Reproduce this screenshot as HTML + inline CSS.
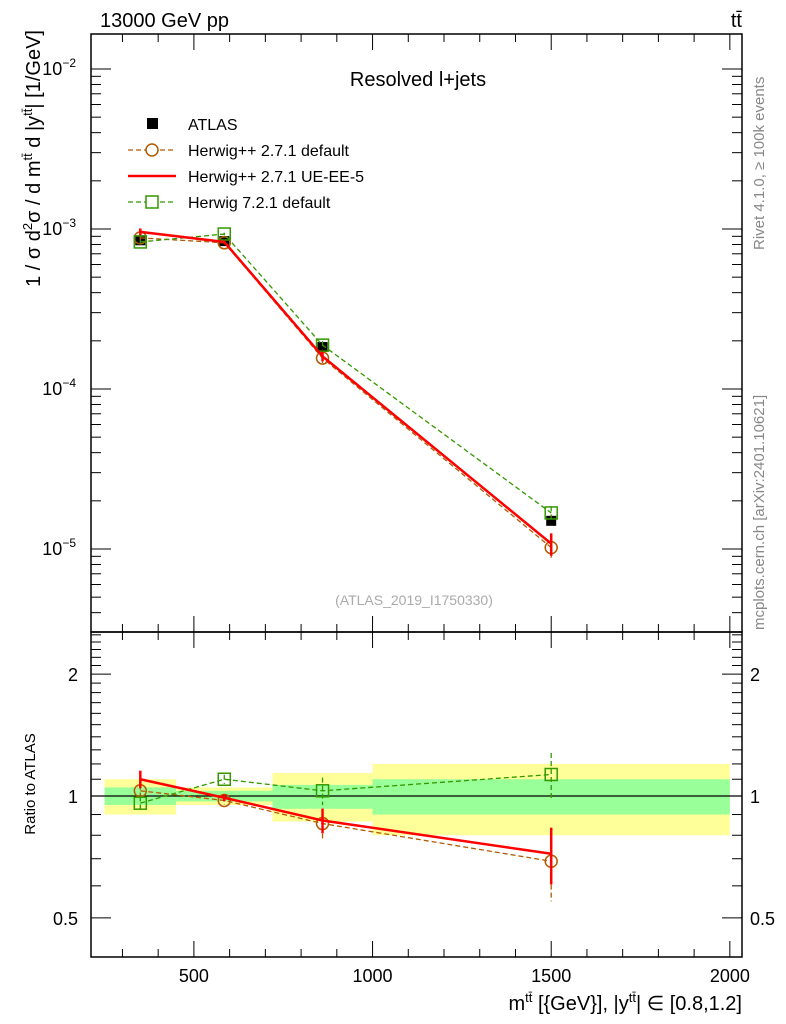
<!DOCTYPE html>
<html><head><meta charset="utf-8">
<style>
html,body{margin:0;padding:0;background:#fff;}
svg{display:block;font-family:"Liberation Sans",sans-serif;}
</style></head>
<body>
<svg id="c" width="786" height="1024" viewBox="0 0 786 1024" xmlns="http://www.w3.org/2000/svg">
<text x="100" y="27" font-size="20">13000 GeV pp</text>
<text x="742" y="27" font-size="20" text-anchor="end">tt̄</text>
<text x="418" y="86" font-size="20" text-anchor="middle">Resolved l+jets</text>
<text x="414" y="605" font-size="14" fill="#aaa" text-anchor="middle">(ATLAS_2019_I1750330)</text>
<text transform="translate(764,250) rotate(-90)" font-size="15" fill="#888">Rivet 4.1.0, ≥ 100k events</text>
<text transform="translate(764,630) rotate(-90)" font-size="15" fill="#888">mcplots.cern.ch [arXiv:2401.10621]</text>
<text transform="translate(40,30) rotate(-90)" font-size="20" text-anchor="end">1 / σ d<tspan font-size="13" dy="-8">2</tspan><tspan dy="8">σ / d m</tspan><tspan font-size="13" dy="-8">tt̄</tspan><tspan dy="8"> d |y</tspan><tspan font-size="13" dy="-8">tt̄</tspan><tspan dy="8">| [1/GeV]</tspan></text>
<text transform="translate(35,784) rotate(-90)" font-size="15" text-anchor="middle">Ratio to ATLAS</text>
<text x="742" y="1010" font-size="20" text-anchor="end">m<tspan font-size="13" dy="-8">tt̄</tspan><tspan dy="8"> [{GeV}], |y</tspan><tspan font-size="13" dy="-8">tt̄</tspan><tspan dy="8">| ∈ [0.8,1.2]</tspan></text>
<g id="legend"></g>
<g id="plot"></g>
</svg>
<script>
const xCenters = [350, 585, 860, 1500];
const binEdges = [250, 450, 720, 1000, 2000];
const atlas = [8.5e-4, 8.4e-4, 1.83e-4, 1.5e-5];
const hppDefault = [8.8e-4, 8.2e-4, 1.56e-4, 1.02e-5];
const hppUE = [9.6e-4, 8.3e-4, 1.6e-4, 1.08e-5];
const h7Default = [8.3e-4, 9.3e-4, 1.88e-4, 1.68e-5];
const ratioDefault = [1.03, 0.975, 0.855, 0.69];
const ratioUE = [1.10, 0.99, 0.87, 0.72];
const ratioH7 = [0.96, 1.10, 1.03, 1.13];
const relErrUE = [0.05, 0.02, 0.07, 0.16];
const relErrDefault = [0.03, 0.02, 0.07, 0.17];
const relErrH7 = [0.03, 0.02, 0.06, 0.10];
const bandOuterHi = [1.10, 1.05, 1.14, 1.20];
const bandOuterLo = [0.90, 0.95, 0.865, 0.80];
const bandInnerHi = [1.05, 1.03, 1.065, 1.10];
const bandInnerLo = [0.95, 0.97, 0.93, 0.90];
const xTicks = [500, 1000, 1500, 2000];
const yMainTicks = [-2, -3, -4, -5];
const yRatioTicks = [2, 1, 0.5];
const yRatioTickLabels = ["2", "1", "0.5"];

const NS = "http://www.w3.org/2000/svg";
const L = 91, R = 742, T = 34, MB = 632, RB = 957;
const xmin = 212, xmax = 2034;
const X = v => L + (v - xmin) / (xmax - xmin) * (R - L);
const Y = v => 69 + (-2 - Math.log10(v)) * 160;
const YR = v => 796 - Math.log10(v) * 405;
const plot = document.getElementById('plot');
function mk(tag, at, parent) { const e = document.createElementNS(NS, tag); for (const k in at) e.setAttribute(k, at[k]); (parent || plot).appendChild(e); return e; }

for (let i = 0; i < 4; i++) {
  const r1 = mk('rect', {x: X(binEdges[i]), y: YR(bandOuterHi[i]), width: X(binEdges[i+1]) - X(binEdges[i]), height: YR(bandOuterLo[i]) - YR(bandOuterHi[i]), fill: '#ffff99'});
  
  
  const r2 = mk('rect', {x: X(binEdges[i]), y: YR(bandInnerHi[i]), width: X(binEdges[i+1]) - X(binEdges[i]), height: YR(bandInnerLo[i]) - YR(bandInnerHi[i]), fill: '#99ff99'});
  
  
}
const one = mk('line', {x1: L, x2: R, y1: YR(1), y2: YR(1), stroke: '#000', 'stroke-width': 1.2});



const f1 = mk('rect', {x: L, y: T, width: R - L, height: MB - T, fill: 'none', stroke: '#000', 'stroke-width': 1.5});


const f2 = mk('rect', {x: L, y: MB, width: R - L, height: RB - MB, fill: 'none', stroke: '#000', 'stroke-width': 1.5});



for (let v = 300; v <= 2000; v += 100) {
  const big = v % 500 === 0, len = big ? 16 : 8;
  [[T, 1], [MB, -1], [MB, 1], [RB, -1]].forEach(([y0, d]) => {
    const t = mk('line', {x1: X(v), x2: X(v), y1: y0, y2: y0 + d * len, stroke: '#000', 'stroke-width': 1});
    
    
  });
}
xTicks.forEach(v => {
  const t = mk('text', {x: X(v), y: 982, 'font-size': 18, 'text-anchor': 'middle'});
  t.textContent = v;
  
  
});
for (let d = -6; d <= -2; d++) for (let m = 1; m < 10; m++) {
  const v = m * Math.pow(10, d), y = Y(v);
  if (y < T || y > MB) continue;
  const len = m === 1 ? 20 : 10;
  [[L, 1], [R, -1]].forEach(([x0, s]) => {
    const t = mk('line', {x1: x0, x2: x0 + s * len, y1: y, y2: y, stroke: '#000', 'stroke-width': 1});
    
    
  });
}
yMainTicks.forEach(d => {
  const t = mk('text', {x: 76, y: Y(Math.pow(10, d)) + 6, 'font-size': 18, 'text-anchor': 'end'});
  t.innerHTML = '10<tspan font-size="12" dy="-8">−' + (-d) + '</tspan>';
  
  
});
for (let v = 0.4; v <= 2.5001; v += 0.1) {
  const y = YR(v); if (y < MB || y > RB) continue;
  const major = [0.5, 1, 2].some(k => Math.abs(k - v) < 1e-6);
  const len = major ? 20 : 10;
  [[L, 1], [R, -1]].forEach(([x0, s]) => {
    const t = mk('line', {x1: x0, x2: x0 + s * len, y1: y, y2: y, stroke: '#000', 'stroke-width': 1});
    
    
  });
}
yRatioTicks.forEach((v, i) => {
  [[78, 'end'], [750, 'start']].forEach(([x, a]) => {
    const t = mk('text', {x: x, y: YR(v) + 7, 'font-size': 18, 'text-anchor': a});
    t.textContent = yRatioTickLabels[i];
    
    
  });
});

function series(vals, errs, yf, color, dash, marker, name, width) {
  const pts = vals.map((v, i) => X(xCenters[i]) + ',' + yf(v)).join(' ');
  const pl = mk('polyline', {points: pts, fill: 'none', stroke: color, 'stroke-width': width, 'stroke-dasharray': dash || 'none'});
  
  
  vals.forEach((v, i) => {
    const x = X(xCenters[i]);
    const e = mk('line', {x1: x, x2: x, y1: yf(v * (1 + errs[i])), y2: yf(v * (1 - errs[i])), stroke: color, 'stroke-width': width, 'stroke-dasharray': dash || 'none'});
    
    
    let m;
    if (marker === 'circle') m = mk('circle', {cx: x, cy: yf(v), r: 6, fill: 'none', stroke: color, 'stroke-width': 1.5});
    else if (marker === 'square') m = mk('rect', {x: x - 6, y: yf(v) - 6, width: 12, height: 12, fill: 'none', stroke: color, 'stroke-width': 1.5});
    if (m) {   }
  });
}
atlas.forEach((v, i) => {
  const m = mk('rect', {x: X(xCenters[i]) - 5, y: Y(v) - 5, width: 10, height: 10, fill: '#000'});
  
  
});
series(hppDefault, relErrDefault, Y, '#b35900', '5,3', 'circle', 'herwigpp-default', 1.3);
series(h7Default, relErrH7, Y, '#339900', '5,3', 'square', 'herwig7-default', 1.3);
series(hppUE, relErrUE, Y, '#ff0000', null, null, 'herwigpp-ueee5', 2.5);
series(ratioDefault, relErrDefault.map(e => e * 1.2), YR, '#b35900', '5,3', 'circle', 'ratio-herwigpp-default', 1.3);
series(ratioH7, relErrH7.map(e => e * 1.3), YR, '#339900', '5,3', 'square', 'ratio-herwig7-default', 1.3);
series(ratioUE, relErrUE, YR, '#ff0000', null, null, 'ratio-herwigpp-ueee5', 2.5);

const lg = document.getElementById('legend');
const entries = [
  ['ATLAS', null, null, 'filled'],
  ['Herwig++ 2.7.1 default', '#b35900', '5,3', 'circle'],
  ['Herwig++ 2.7.1 UE-EE-5', '#ff0000', null, null],
  ['Herwig 7.2.1 default', '#339900', '5,3', 'square']
];
entries.forEach((en, i) => {
  const y = 124 + i * 26;
  const g = mk('g', {}, lg);
  
  
  if (en[1]) mk('line', {x1: 128, x2: 176, y1: y, y2: y, stroke: en[1], 'stroke-width': en[2] ? 1.3 : 2.5, 'stroke-dasharray': en[2] || 'none'}, g);
  if (en[3] === 'filled') mk('rect', {x: 147, y: y - 6, width: 11, height: 11, fill: '#000'}, g);
  if (en[3] === 'circle') mk('circle', {cx: 152, cy: y, r: 6, fill: '#fff', stroke: en[1], 'stroke-width': 1.5}, g);
  if (en[3] === 'square') mk('rect', {x: 146, y: y - 6, width: 12, height: 12, fill: '#fff', stroke: en[1], 'stroke-width': 1.5}, g);
  const t = mk('text', {x: 188, y: y + 6, 'font-size': 16}, g);
  t.textContent = en[0];
});
</script>
</body></html>
